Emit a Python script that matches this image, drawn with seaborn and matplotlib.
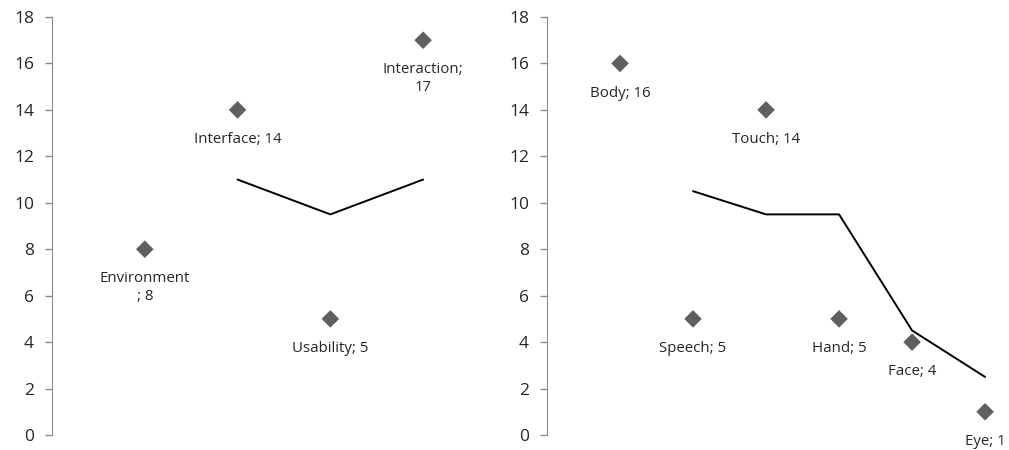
import matplotlib
matplotlib.use("Agg")
import matplotlib.pyplot as plt
import seaborn as sns
import pandas as pd

# left chart
left_names = ["Environment\n; 8", "Interface; 14", "Usability; 5", "Interaction;\n17"]
left_values = [8, 14, 5, 17]
left_trend = [11, 9.5, 11]

# right chart
right_names = ["Body; 16", "Speech; 5", "Touch; 14", "Hand; 5", "Face; 4", "Eye; 1"]
right_values = [16, 5, 14, 5, 4, 1]
right_trend = [10.5, 9.5, 9.5, 4.5, 2.5]

y_ticks = [0, 2, 4, 6, 8, 10, 12, 14, 16, 18]

sns.set_style("white")
plt.rcParams["font.family"] = ["Open Sans", "DejaVu Sans"]

fig = plt.figure(figsize=(10.09, 4.5), dpi=100)
ax1 = fig.add_axes([52 / 1009, 15 / 450, 450 / 1009, 418 / 450])
ax2 = fig.add_axes([547 / 1009, 15 / 450, 460 / 1009, 418 / 450])


def draw(ax, names, values, trend, xmax):
    df = pd.DataFrame({"x": range(1, len(values) + 1), "y": values, "label": names})
    tr = pd.DataFrame({"x": range(2, len(trend) + 2), "y": trend})
    sns.lineplot(data=tr, x="x", y="y", ax=ax, color="black", linewidth=1.4)
    sns.scatterplot(data=df, x="x", y="y", ax=ax, marker="D", s=80,
                    color="#5f5f5f", edgecolor="none", zorder=3)
    for _, r in df.iterrows():
        ax.annotate(r["label"], (r["x"], r["y"]), xytext=(0, -16),
                    textcoords="offset points", ha="center", va="top",
                    fontsize=10.8, color="#262626", linespacing=1.2)
    ax.set_xlim(0, xmax)
    ax.set_ylim(0, 18)
    ax.set_yticks(y_ticks)
    ax.set_xticks([])
    ax.set_xlabel("")
    ax.set_ylabel("")
    for s in ["top", "right", "bottom"]:
        ax.spines[s].set_visible(False)
    ax.spines["left"].set_color("#8c8c8c")
    ax.tick_params(axis="y", direction="out", length=5, width=1, color="#8c8c8c",
                   labelsize=12.5, labelcolor="#262626", left=True, pad=8)
    ax.patch.set_alpha(0)


draw(ax1, left_names, left_values, left_trend, 4.85)
draw(ax2, right_names, right_values, right_trend, 6.3)

fig.savefig("out.png", dpi=100)
